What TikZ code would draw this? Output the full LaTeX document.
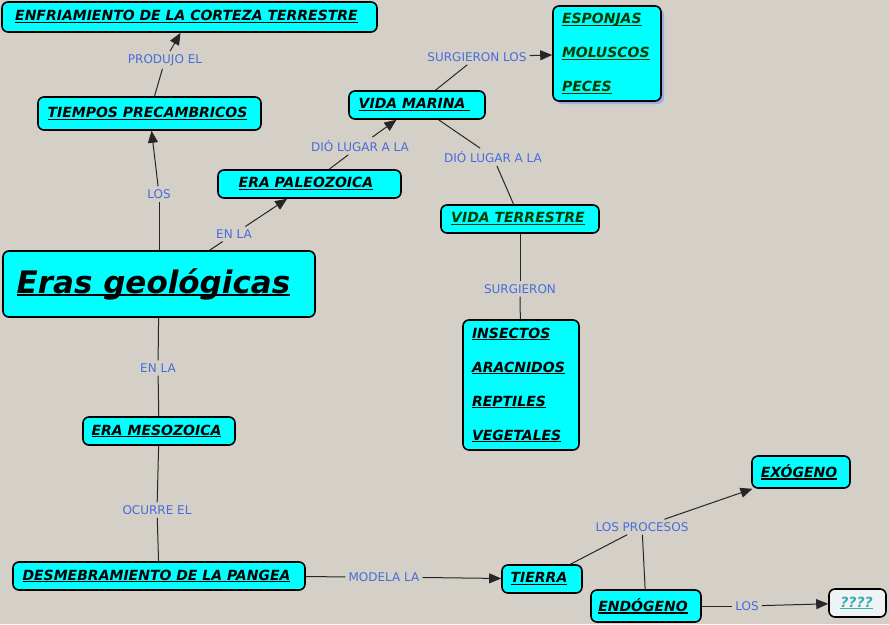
\documentclass[tikz,border=0pt]{standalone}
\usepackage{fontspec}
\setmainfont{DejaVu Sans}
\usetikzlibrary{arrows.meta,shadows}
\definecolor{bg}{RGB}{212,208,200}
\definecolor{cmcyan}{RGB}{0,255,255}
\definecolor{lblue}{RGB}{72,108,218}
\definecolor{dgreen}{RGB}{0,60,0}
\definecolor{qteal}{RGB}{60,170,180}
\definecolor{qfill}{RGB}{238,244,244}
\definecolor{shblue}{RGB}{150,170,230}
\newcommand\ulc[1]{\leavevmode\sbox0{#1}\rlap{\rule[-2.4pt]{\wd0}{1.2pt}}\usebox0}
\newcommand\ulbig[1]{\leavevmode\sbox0{#1}\rlap{\rule[-2.6pt]{\wd0}{2pt}}\usebox0}
\begin{document}
\begin{tikzpicture}[x=1pt,y=-1pt,
 concept/.style={draw=black, line width=1.6pt, fill=cmcyan, rounded corners=6pt, inner sep=0pt,
   font=\fontsize{14}{17}\selectfont\bfseries\itshape, text=black},
 listbox/.style={concept, align=left, inner xsep=9pt, font=\fontsize{14}{34}\selectfont\bfseries\itshape},
 lbl/.style={font=\fontsize{12}{14}\selectfont, text=lblue, inner sep=3pt},
 conn/.style={draw=black!85, line width=1pt},
 arr/.style={conn, -{Triangle[length=12pt,width=10pt]}}
]
\useasboundingbox[fill=bg] (0,0) rectangle (889,624);

% concepts
\node[concept, minimum width=375pt, minimum height=30pt] (enf) at (189.5,17) {\ulc{ENFRIAMIENTO DE LA CORTEZA TERRESTRE}\kern6pt};
\node[concept, minimum width=223pt, minimum height=33pt] (tiempos) at (149.5,113.5) {\ulc{TIEMPOS PRECAMBRICOS}\kern4pt};
\node[concept, minimum width=136pt, minimum height=28pt] (marina) at (417,105) {\ulc{VIDA MARINA\ }\kern5pt};
\node[listbox, text=dgreen, text width=90pt, minimum height=95pt,
  drop shadow={shadow xshift=3pt, shadow yshift=-3pt, fill=shblue, opacity=0.9}] (esp) at (607,53.5)
  {\ulc{ESPONJAS}\\\ulc{MOLUSCOS}\\\ulc{PECES}};
\node[concept, minimum width=183pt, minimum height=28pt] (paleo) at (309.5,184) {\ulc{ERA PALEOZOICA}\kern7pt};
\node[concept, text=dgreen, minimum width=158pt, minimum height=28pt] (terrestre) at (520,219) {\ulc{VIDA TERRESTRE}\kern4pt};
\node[concept, minimum width=312pt, minimum height=66pt, font=\fontsize{31}{36}\selectfont\bfseries\itshape] (eras) at (159,284) {\ulbig{Eras geológicas}\kern11pt};
\node[listbox, text width=98pt, minimum height=130pt] (insectos) at (521,385)
  {\ulc{INSECTOS}\\\ulc{ARACNIDOS}\\\ulc{REPTILES}\\\ulc{VEGETALES}};
\node[concept, minimum width=152pt, minimum height=28pt] (meso) at (159,431) {\ulc{ERA MESOZOICA}\kern5pt};
\node[concept, minimum width=292pt, minimum height=28pt] (desmeb) at (159,576) {\ulc{DESMEBRAMIENTO DE LA PANGEA}\kern5pt};
\node[concept, minimum width=80pt, minimum height=28pt] (tierra) at (542,579) {\ulc{TIERRA}\kern6pt};
\node[concept, minimum width=98pt, minimum height=32pt] (exog) at (801,472) {\ulc{EXÓGENO}\kern4pt};
\node[concept, minimum width=110pt, minimum height=32pt] (endog) at (646,606) {\ulc{ENDÓGENO}\kern6pt};
\node[concept, fill=qfill, text=qteal, minimum width=57pt, minimum height=28pt] (qqq) at (857.5,603) {\ulc{????}\kern2pt};

% link labels
\node[lbl] (l1) at (165,60) {PRODUJO EL};
\node[lbl] (l2) at (159,194) {LOS};
\node[lbl] (l3) at (234,234) {EN LA};
\node[lbl] (l4) at (360,146) {DIÓ LUGAR A LA};
\node[lbl] (l5) at (477,57) {SURGIERON LOS};
\node[lbl] (l6) at (493,157) {DIÓ LUGAR A LA};
\node[lbl] (l7) at (520,289) {SURGIERON};
\node[lbl] (l8) at (158,368) {EN LA};
\node[lbl] (l9) at (157,510) {OCURRE EL};
\node[lbl] (l10) at (384,577) {MODELA LA};
\node[lbl] (l11) at (642,527) {LOS PROCESOS};
\node[lbl] (l12) at (747,606) {LOS};

% connectors
\draw[conn] (tiempos) -- (l1);
\draw[arr] (l1) -- (enf);
\draw[conn] (eras) -- (l2);
\draw[arr] (l2) -- (tiempos);
\draw[conn] (eras) -- (l3);
\draw[arr] (l3) -- (paleo);
\draw[conn] (paleo) -- (l4);
\draw[arr] (l4) -- (marina);
\draw[conn] (marina) -- (l5);
\draw[arr] (l5) -- (esp);
\draw[conn] (marina) -- (l6);
\draw[conn] (l6) -- (terrestre);
\draw[conn] (terrestre) -- (l7);
\draw[conn] (l7) -- (insectos);
\draw[conn] (eras) -- (l8);
\draw[conn] (l8) -- (meso);
\draw[conn] (meso) -- (l9);
\draw[conn] (l9) -- (desmeb);
\draw[conn] (desmeb) -- (l10);
\draw[arr] (l10) -- (tierra);
\draw[conn] (tierra) -- (l11);
\draw[arr] (l11) -- (exog);
\draw[conn] (l11) -- (endog);
\draw[conn] (endog) -- (l12);
\draw[arr] (l12) -- (qqq);
\end{tikzpicture}
\end{document}
